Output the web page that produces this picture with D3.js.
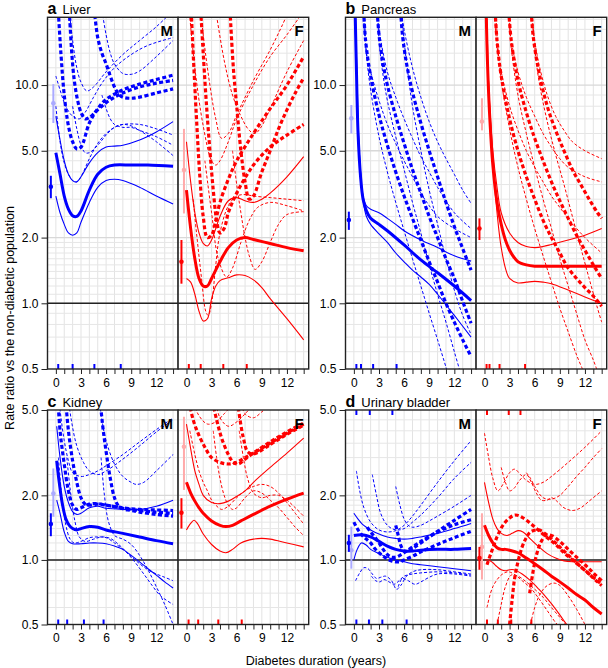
<!DOCTYPE html>
<html><head><meta charset="utf-8">
<script src="https://cdn.jsdelivr.net/npm/d3@7"></script>
<style>body{margin:0;background:#fff}text{font-family:"Liberation Sans",Arial,Helvetica,sans-serif}</style>
</head><body><svg id="c" width="608" height="668"></svg>
<script>
// ---------- axis ticks ----------
const xTickVals = d3.range(0, 15);
const xTickLabels = [0, 3, 6, 9, 12];
const yTicksTop = [0.5, 1, 2, 5, 10];
const yTicksBottom = [0.5, 1, 2, 5];
const yGridMinor = [0.6,0.7,0.8,0.9,1.1,1.2,1.3,1.4,1.5,1.6,1.7,1.8,1.9,2.5,3,3.5,4,4.5,6,7,8,9,12,14,16,18,20];
const yGridMajor = [1, 2, 5, 10];

// ---------- Liver, men ----------
const liverM_est = [[0,4.9],[0.5,3.9],[1,3.1],[1.5,2.7],[2,2.52],[2.5,2.5],[3,2.65],[4,3.3],[5,3.9],[6,4.2],[7,4.3],[9,4.3],[11,4.3],[14,4.25]];
const liverM_hi = [[0,7.2],[0.5,5.6],[1,4.5],[1.5,3.9],[2,3.65],[2.5,3.6],[3,3.8],[4,4.4],[5,4.9],[6,5.2],[7,5.25],[8,5.3],[10,5.6],[12,6.1],[14,6.8]];
const liverM_lo = [[0,3.1],[0.5,2.6],[1,2.3],[1.5,2.1],[2,2.05],[2.5,2.1],[3,2.35],[4,2.9],[5,3.4],[6,3.65],[7,3.7],[8,3.65],[10,3.4],[12,3.1],[14,2.85]];
const liverM_s1 = [[0.2,25],[0.6,14],[1,9],[1.5,6.5],[2,5.5],[2.5,5.1],[3,5.2],[4,6.7],[5,7.8],[6,8.6],[8,9.5],[10,10.1],[12,10.6],[14,11.1]];
const liverM_s2 = [[1.6,22],[1.9,14],[2.2,10.5],[2.6,8.5],[3,7.5],[3.5,7.0],[4,7.1],[5,7.7],[6,8.3],[7,8.8],[8,9.2],[10,9.8],[12,10.2],[14,10.5]];
const liverM_s3 = [[4.5,24],[5,16.5],[5.5,14],[6,12.5],[6.5,11],[7,9.8],[7.5,9.1],[8,8.8],[9,8.7],[10,8.8],[12,9.2],[14,9.6]];
const liverM_s1hi = [[0,11],[0.5,9.5],[1,8.3],[1.5,7.6],[2,7.2],[2.8,7.0],[3.5,7.5],[4.5,8.8],[5.5,10.2],[7,12],[9,13.8],[11,15.2],[14,16.5]];
const liverM_s2hi = [[1.6,22],[2,16],[2.5,12],[3,10.3],[3.7,9.4],[4.5,9.8],[6,11.5],[8,13.8],[10,16],[12,18.5],[13.5,21]];
const liverM_s3hi = [[5.5,22],[6,17],[6.5,14],[7,12.5],[8,11.3],[9,11.2],[10,11.6],[12,13.5],[14,16]];
const liverM_s1lo = [[0,8],[0.5,5.5],[1,4.4],[1.5,3.9],[2,3.65],[2.5,3.6],[3,3.8],[4,4.6],[5,5.4],[6,6.0],[7,6.4],[8,6.6],[9,6.5],[10,6.2],[12,5.5],[14,4.75]];
const liverM_s2lo = [[2,8],[2.5,6.3],[3,5.3],[3.5,4.9],[4,4.9],[5,5.3],[6,5.9],[7,6.4],[8,6.6],[10,6.6],[12,6.3],[14,5.9]];
const liverM_s3lo = [[5.5,9],[6,7.8],[6.5,7.0],[7,6.6],[8,6.4],[9,6.4],[10,6.2],[12,5.8],[14,5.3]];
const liverM_point = [3.42, 3.03, 3.84];
const liverM_pointAll = [8.25, 6.7, 10.1];
const liverM_rugBottom = [0.28, 2.0, 4.6, 7.75];
const liverM_rugTop = [];

// ---------- Liver, women ----------
const liverF_est = [[0,3.3],[0.5,2.2],[1,1.6],[1.5,1.3],[2,1.2],[2.5,1.2],[3,1.3],[4,1.55],[5,1.8],[6,1.95],[7,2.0],[8,1.96],[10,1.88],[12,1.8],[14,1.74]];
const liverF_hi = [[0,5.5],[0.5,3.6],[1,2.6],[1.5,2.1],[2,1.88],[2.5,1.83],[3,1.95],[4,2.5],[5,2.95],[6,3.05],[7,2.95],[8,2.9],[9,3.0],[10,3.2],[12,3.8],[14,4.7]];
const liverF_lo = [[0,1.3],[0.5,1.25],[1,1.1],[1.5,0.92],[2,0.83],[2.5,0.85],[3,1.05],[3.5,1.2],[4,1.27],[5,1.31],[6,1.35],[7,1.34],[8,1.28],[9,1.18],[10,1.05],[12,0.85],[14,0.68]];
const liverF_s1 = [[0.5,25],[0.8,14],[1.2,7],[1.6,3.8],[2,2.5],[2.5,2.0],[3,2.05],[3.5,2.4],[4,2.9],[5,3.7],[6,4.5],[8,6.0],[10,7.8],[12,10.0],[14,13.5]];
const liverF_s2 = [[1.7,22],[2,14],[2.4,8],[2.8,5],[3.2,3.3],[3.6,2.4],[4,2.1],[4.5,2.2],[5,2.6],[6,3.2],[8,4.3],[10,5.2],[12,5.9],[14,6.6]];
const liverF_s3 = [[5.2,22],[5.6,12],[6,8],[6.5,5],[7,3.6],[7.5,3.0],[8,3.1],[9,4.0],[10,5.0],[11,6.3],[12,7.7],[13,9.2],[14,10.8]];
const liverF_s1hi = [[0.2,25],[1,12],[2,6.5],[3,4.5],[3.5,4.3],[4,4.5],[5,5.5],[6,7],[8,10],[10,13.5],[12,17],[13.5,20.5]];
const liverF_s2hi = [[1.5,25],[2.5,12],[3.5,7],[4.2,5.7],[5,6],[6,7.3],[8,10.5],[10,14.5],[11.5,19],[12,21]];
const liverF_s3hi = [[3.5,22],[4.5,13],[5.5,9],[6.5,7.2],[7.5,6.2],[8.2,6.0],[9,6.5],[10,7.8],[12,11.5],[14,16]];
const liverF_s1lo = [[0.8,3],[1.2,2.1],[1.8,1.3],[2.3,0.92],[2.6,0.88],[3,1.0],[3.5,1.5],[4,2.1],[5,2.8],[6,3.1],[7,3.15],[8,3.1],[10,3.05],[12,3.0],[14,2.95]];
const liverF_s2lo = [[2.2,4.5],[3,2.6],[3.8,1.6],[4.8,1.32],[5.5,1.45],[6.5,1.9],[7.5,2.4],[8.5,2.75],[10,2.9],[12,2.8],[14,2.65]];
const liverF_s3lo = [[5.5,5],[6,3.5],[6.5,2.6],[7,2.0],[7.5,1.65],[8.2,1.43],[9,1.55],[10,1.9],[11,2.3],[12,2.55],[14,2.63]];
const liverF_point = [1.55, 1.23, 1.95];
const liverF_pointAll = [4.08, 2.58, 6.3];
const liverF_rugBottom = [0.28, 1.7, 4.4, 7.2];
const liverF_rugTop = [];

// ---------- Pancreas, men ----------
const pancM_est = [[0.15,22],[0.3,12],[0.5,6],[0.8,3.8],[1.1,3.0],[1.5,2.65],[2,2.45],[3,2.3],[4,2.15],[6,1.85],[8,1.58],[10,1.38],[12,1.2],[14,1.03]];
const pancM_hi = [[0.1,22],[0.3,12],[0.5,6.5],[0.8,4],[1.1,3.1],[1.5,2.8],[2,2.7],[3,2.6],[4,2.45],[5,2.3],[6,2.15],[8,1.95],[10,1.8],[12,1.65],[14,1.56]];
const pancM_lo = [[0.2,20],[0.4,10],[0.6,5.5],[0.9,3.5],[1.2,2.8],[1.5,2.5],[2,2.3],[3,2.08],[4,1.9],[5,1.7],[6,1.55],[7,1.42],[8,1.32],[9,1.22],[10,1.1],[12,0.88],[14,0.7]];
const pancM_s1 = [[1.1,25],[1.4,16],[2,11],[3,7.3],[4,5.3],[5,4.0],[6,3.1],[7,2.45],[8,1.95],[9,1.55],[10,1.25],[11,1.0],[12,0.82],[13,0.68],[14,0.57]];
const pancM_s2 = [[2.7,25],[3,17],[3.5,12.5],[4,10],[5,7.2],[6,5.4],[7,4.1],[8,3.2],[9,2.5],[10,2.0],[11,1.6],[12,1.3],[13,1.02],[14,0.81]];
const pancM_s3 = [[5.5,25],[5.8,17],[6.3,12.5],[7,9.3],[8,6.7],[9,5.0],[10,3.8],[11,2.9],[12,2.25],[13,1.78],[14,1.42]];
const pancM_s1hi = [[1.0,25],[1.5,14],[2,11.5],[3,8.5],[4,6.6],[5,5.4],[6,4.5],[7,3.8],[8,3.2],[9,2.8],[10,2.5],[12,2.2],[14,2.0]];
const pancM_s2hi = [[2.6,25],[3,18],[4,11.5],[5,8.8],[6,7.0],[7,5.7],[8,4.7],[9,4.0],[10,3.4],[12,2.6],[14,2.2]];
const pancM_s3hi = [[5.4,25],[6,18],[7,12],[8,8.8],[9,6.8],[10,5.5],[11,4.6],[12,3.9],[13,3.3],[14,2.87]];
const pancM_s1lo = [[1.2,25],[1.5,14],[2,9.5],[3,5.8],[4,4.0],[5,2.9],[6,2.15],[7,1.6],[8,1.2],[9,0.9],[10,0.68],[11,0.51],[11.2,0.48]];
const pancM_s2lo = [[2.8,25],[3,16],[3.5,11],[4,8.5],[5,5.8],[6,4.1],[7,2.9],[8,2.1],[9,1.5],[10,1.1],[11,0.82],[12,0.6],[12.6,0.5]];
const pancM_s3lo = [[5.6,25],[6,16],[6.5,11],[7,8],[8,5],[9,3.3],[10,2.3],[11,1.6],[12,1.15],[13,0.88],[14,0.72]];
const pancM_point = [2.41, 2.17, 2.63];
const pancM_pointAll = [7.04, 6.0, 8.1];
const pancM_rugBottom = [0.3, 0.85, 2.3, 5.1];
const pancM_rugTop = [];

// ---------- Pancreas, women ----------
const pancF_est = [[0.2,22],[0.35,13],[0.6,7.5],[1,4.3],[1.5,2.9],[2,2.3],[2.5,1.95],[3,1.75],[3.5,1.63],[4,1.55],[5,1.5],[6,1.48],[8,1.48],[10,1.48],[12,1.48],[14,1.48]];
const pancF_hi = [[0.1,25],[0.3,15],[0.6,8.5],[1,5],[1.5,3.4],[2,2.6],[3,2.1],[4,1.9],[5,1.82],[6,1.8],[7,1.82],[8,1.86],[10,1.95],[12,2.05],[14,2.2]];
const pancF_lo = [[0.3,20],[0.5,10],[0.8,6],[1.2,3.5],[1.7,2.2],[2,1.8],[2.5,1.45],[3,1.3],[4,1.24],[5,1.25],[6,1.26],[7,1.25],[8,1.23],[10,1.15],[12,1.07],[14,1.0]];
const pancF_s1 = [[1.2,25],[1.5,16],[2,11],[3,7],[4,5],[5,3.8],[6,3.0],[7,2.4],[8,2.0],[9,1.7],[10,1.45],[11,1.3],[12,1.18],[13,1.08],[14,0.97]];
const pancF_s2 = [[2.8,25],[3.2,16],[4,10.5],[5,7.5],[6,5.7],[7,4.5],[8,3.6],[9,2.95],[10,2.45],[11,2.05],[12,1.75],[13,1.5],[14,1.3]];
const pancF_s3 = [[5.5,25],[5.8,17],[6.5,11.5],[7.5,8],[8.5,6.2],[9.5,5.0],[10.5,4.1],[11.5,3.5],[12.5,3.0],[13.5,2.6],[14,2.45]];
const pancF_s1hi = [[1.1,25],[1.5,15],[2,11.5],[3,8],[4,6.2],[5,5],[6,4.2],[7,3.6],[8,3.1],[9,2.75],[10,2.45],[12,2.0],[14,1.7]];
const pancF_s2hi = [[2.7,25],[3.2,16],[4,11.5],[5,8.8],[6,7.2],[7,6.0],[8,5.2],[9,4.6],[10,4.2],[12,3.8],[14,3.6]];
const pancF_s3hi = [[5.4,25],[5.8,18],[6.5,12.5],[7.5,9],[8.5,7.2],[9.5,6.2],[10.5,5.5],[12,5.0],[14,4.6]];
const pancF_s1lo = [[1.3,25],[1.6,15],[2,10.5],[3,6.3],[4,4.2],[5,3.0],[6,2.2],[7,1.65],[8,1.25],[9,0.95],[10,0.74],[11,0.58],[11.7,0.5]];
const pancF_s2lo = [[2.9,25],[3.2,15],[4,9],[5,6],[6,4.2],[7,3.0],[8,2.2],[9,1.6],[10,1.2],[11,0.9],[12,0.68],[13,0.55],[13.4,0.5]];
const pancF_s3lo = [[5.6,25],[6,15],[6.5,10.5],[7.5,6.8],[8.5,4.8],[9.5,3.5],[10.5,2.5],[11.5,1.8],[12.5,1.3],[13.5,0.95],[14,0.82]];
const pancF_point = [2.2, 1.95, 2.45];
const pancF_pointAll = [6.8, 6.2, 8.7];
const pancF_rugBottom = [0.25, 0.6, 1.8, 4.85];
const pancF_rugTop = [];

// ---------- Kidney, men ----------
const kidM_est = [[0.1,2.9],[0.4,2.3],[0.8,1.8],[1.2,1.55],[1.6,1.45],[2,1.4],[2.5,1.38],[3,1.4],[4,1.43],[5,1.42],[6,1.38],[8,1.33],[10,1.28],[12,1.23],[14,1.19]];
const kidM_hi = [[0.1,4.2],[0.5,3.0],[1,2.2],[1.5,1.85],[2,1.68],[2.5,1.63],[3,1.65],[4,1.75],[5,1.78],[6,1.74],[8,1.72],[10,1.72],[12,1.78],[14,1.9]];
const kidM_lo = [[0.1,1.9],[0.5,1.65],[1,1.35],[1.5,1.22],[2,1.19],[3,1.19],[4,1.2],[5,1.2],[6,1.19],[7,1.16],[8,1.12],[9,1.05],[10,0.98],[11,0.91],[12,0.85],[13,0.79],[14,0.74]];
const kidM_s1 = [[0.2,6],[0.5,4],[1,2.8],[1.5,2.1],[2,1.8],[2.5,1.72],[3,1.75],[4,1.82],[5,1.83],[6,1.8],[8,1.75],[10,1.72],[12,1.71],[14,1.7]];
const kidM_s2 = [[1.1,6],[1.5,4],[2,2.9],[2.5,2.3],[3,1.95],[3.5,1.82],[4,1.8],[5,1.82],[6,1.8],[8,1.74],[10,1.7],[12,1.67],[14,1.65]];
const kidM_s3 = [[5.2,6],[5.6,4.2],[6,3.2],[6.5,2.4],[7,1.95],[7.5,1.78],[8,1.73],[9,1.7],[10,1.67],[12,1.63],[14,1.6]];
const kidM_s1hi = [[0.1,7],[0.5,5],[1,3.6],[1.5,2.9],[2,2.55],[3,2.45],[4,2.5],[5,2.6],[6,2.75],[8,3.1],[10,3.55],[12,4.05],[14,4.6]];
const kidM_s2hi = [[1.2,7],[1.8,4.6],[2.5,3.4],[3.3,2.85],[4,2.6],[5,2.5],[6,2.6],[8,2.95],[10,3.4],[12,3.95],[14,4.5]];
const kidM_s3hi = [[4.9,7],[5.5,4.5],[6,3.6],[7,2.8],[8,2.45],[9,2.3],[9.6,2.25],[10.5,2.3],[12,2.6],[14,3.1]];
const kidM_s1lo = [[0.3,3],[0.7,2],[1.2,1.45],[1.7,1.25],[2.2,1.2],[3,1.22],[4,1.27],[5,1.28],[6,1.27],[7,1.2],[8,1.12],[9,1.04],[10,0.96],[11,0.9],[12,0.86],[13,0.83],[14,0.8]];
const kidM_s2lo = [[1.3,3],[1.8,2],[2.3,1.5],[2.8,1.28],[3.5,1.22],[4.5,1.25],[5.5,1.28],[6.5,1.26],[7.5,1.18],[8.5,1.08],[9.5,0.97],[10.5,0.86],[11.5,0.76],[12.5,0.68],[14,0.62]];
const kidM_s3lo = [[5.4,3],[5.8,2],[6.3,1.5],[7,1.3],[7.5,1.27],[8,1.25],[9,1.18],[10,1.05],[11,0.9],[12,0.75],[13,0.62],[14,0.5]];
const kidM_point = [1.47, 1.29, 1.65];
const kidM_pointAll = [2.04, 1.59, 2.67];
const kidM_rugBottom = [0.28, 1.35, 3.35, 5.7];
const kidM_rugTop = [];

// ---------- Kidney, women ----------
const kidF_est = [[0,2.3],[0.5,2.05],[1,1.88],[1.5,1.75],[2,1.65],[3,1.52],[4,1.45],[4.7,1.43],[5.5,1.45],[6.5,1.52],[8,1.63],[10,1.78],[12,1.92],[14,2.05]];
const kidF_hi = [[0,4.3],[0.5,3.3],[1,2.6],[1.5,2.25],[2,2.0],[3,1.85],[4,1.83],[5,1.88],[6,1.98],[7,2.1],[8,2.3],[10,2.7],[12,3.15],[14,3.7]];
const kidF_lo = [[0,1.38],[0.5,1.48],[0.9,1.53],[1.3,1.48],[2,1.32],[3,1.18],[4,1.1],[4.7,1.08],[5.5,1.12],[6.5,1.2],[8,1.25],[9,1.26],[10,1.25],[12,1.2],[14,1.15]];
const kidF_s1 = [[0.3,5.5],[0.8,4.5],[1.5,3.8],[2.3,3.3],[3,3.0],[4,2.85],[5,2.8],[6,2.85],[7,3.0],[8,3.15],[10,3.5],[12,3.9],[14,4.3]];
const kidF_s2 = [[3.1,5.5],[3.6,4.5],[4.2,3.7],[5,3.1],[5.6,2.85],[6.2,2.8],[7,2.95],[8,3.15],[10,3.55],[12,3.95],[14,4.35]];
const kidF_s3 = [[6.1,5.5],[6.4,4.5],[6.8,3.7],[7.3,3.2],[8,3.12],[10,3.45],[12,3.85],[14,4.25]];
const kidF_s1hi = [[0.2,7],[0.8,5.5],[1.5,4.7],[2.5,4.3],[3.5,4.4],[4.5,4.8],[5.5,5.3]];
const kidF_s2hi = [[3,7],[3.5,5.5],[4,4.6],[5,4.2],[6,4.4],[7,4.8],[8,5.3]];
const kidF_s3hi = [[6,7],[6.5,5.5],[7,4.8],[8,4.6],[9,4.9],[10,5.3]];
const kidF_s1lo = [[0.4,4],[1,3.1],[1.5,2.6],[2,2.3],[2.5,2.1],[3,1.9],[3.5,1.8],[4.2,1.72],[5,1.78],[6,1.95],[7,2.1],[8,2.2],[9,2.25],[10,2.2],[11,2.05],[12,1.85],[13,1.65],[14,1.47]];
const kidF_s2lo = [[3.2,4],[3.6,3],[4,2.4],[4.5,2.0],[5,1.8],[5.5,1.72],[6,1.75],[7,1.95],[8,2.1],[9,2.05],[10,1.9],[11,1.75],[12,1.58],[13,1.42],[14,1.3]];
const kidF_s3lo = [[6.3,4],[6.8,3],[7.3,2.4],[8,2.05],[9,1.95],[10,2.0],[11,2.0],[12,1.9],[13,1.75],[14,1.6]];
const kidF_point = [1.66, 1.40, 1.94];
const kidF_pointAll = [3.37, 2.12, 4.65];
const kidF_rugBottom = [0.25, 1.4, 3.8, 6.6];
const kidF_rugTop = [];

// ---------- Urinary bladder, men ----------
const bladM_est = [[0,1.3],[1,1.31],[2,1.28],[3,1.22],[4,1.16],[5,1.12],[6,1.1],[7,1.1],[8,1.11],[10,1.12],[12,1.12],[14,1.13]];
const bladM_hi = [[0,1.65],[0.5,1.55],[1,1.47],[1.5,1.42],[2,1.38],[3,1.32],[4,1.28],[5,1.26],[6,1.25],[7,1.26],[8,1.28],[10,1.33],[12,1.4],[14,1.48]];
const bladM_lo = [[0,1.0],[0.4,1.12],[0.9,1.2],[1.5,1.17],[2,1.12],[3,1.07],[4,1.03],[5,1.0],[6,0.98],[7,0.96],[8,0.95],[10,0.93],[12,0.91],[14,0.89]];
const bladM_s1 = [[0,1.5],[0.5,1.38],[1,1.3],[1.5,1.25],[2,1.2],[2.5,1.13],[3,1.08],[3.5,1.04],[4,1.01],[4.5,0.99],[5,0.98],[5.5,0.98],[6,1.0],[7,1.04],[8,1.09],[10,1.18],[12,1.27],[14,1.36]];
const bladM_s2 = [[1.6,1.42],[2,1.35],[2.5,1.28],[3,1.2],[3.5,1.12],[4,1.06],[4.5,1.03],[5,1.03],[5.5,1.05],[6,1.08],[7,1.15],[8,1.22],[10,1.35],[12,1.46],[14,1.54]];
const bladM_s3 = [[5,1.45],[5.3,1.3],[5.6,1.17],[6,1.1],[6.5,1.1],[7,1.13],[8,1.2],[10,1.36],[12,1.53],[14,1.72]];
const bladM_s1hi = [[0.3,2.6],[0.7,2.1],[1.2,1.75],[2,1.5],[3,1.38],[4,1.35],[5,1.37],[6,1.45],[7,1.6],[8,1.8],[10,2.3],[12,2.9],[14,3.6]];
const bladM_s2hi = [[2.2,2.5],[2.7,2.0],[3.2,1.65],[4,1.45],[5,1.38],[6,1.4],[7,1.5],[8,1.62],[10,1.95],[12,2.4],[14,2.85]];
const bladM_s3hi = [[5,2.2],[5.5,1.8],[6,1.55],[6.5,1.45],[7,1.42],[8,1.45],[9,1.52],[10,1.6],[12,1.78],[14,2.0]];
const bladM_s1lo = [[0.2,0.8],[0.7,0.87],[1.2,0.92],[1.7,0.91],[2.2,0.86],[2.7,0.82],[3.2,0.83],[3.8,0.84],[4.5,0.8],[5.1,0.73],[5.6,0.76],[6.3,0.84],[7,0.88],[8,0.9],[10,0.9],[12,0.88],[14,0.86]];
const bladM_s2lo = [[2.1,0.84],[2.6,0.8],[3.1,0.79],[3.6,0.81],[4.2,0.79],[4.8,0.77],[5.4,0.8],[6,0.84],[7,0.86],[8,0.87],[10,0.88],[12,0.87],[14,0.85]];
const bladM_s3lo = [[5.3,0.75],[5.8,0.82],[6.5,0.8],[7.3,0.77],[8,0.79],[9,0.83],[10,0.86],[12,0.86],[14,0.84]];
const bladM_point = [1.2, 1.09, 1.31];
const bladM_pointAll = [1.11, 0.91, 1.43];
const bladM_rugBottom = [0.3, 1.8, 3.4, 6.3];
const bladM_rugTop = [0.3, 1.9, 4.6];

// ---------- Urinary bladder, women ----------
const bladF_est = [[0,1.45],[0.5,1.3],[1,1.2],[1.5,1.14],[2,1.12],[2.5,1.12],[3,1.11],[4,1.08],[5,1.02],[6,0.96],[7,0.9],[8,0.84],[9,0.79],[10,0.74],[11,0.69],[12,0.65],[13,0.6],[14,0.56]];
const bladF_hi = [[0,2.3],[0.5,1.85],[1,1.55],[1.5,1.4],[2,1.33],[2.7,1.3],[3.3,1.33],[4,1.37],[4.6,1.35],[5.5,1.25],[6.5,1.15],[7.5,1.07],[8.5,1.02],[9.5,0.99],[10.5,0.98],[12,0.98],[14,0.98]];
const bladF_lo = [[0,1.0],[0.5,1.0],[1,0.97],[1.5,0.93],[2,0.9],[2.5,0.89],[3,0.9],[3.5,0.9],[4.5,0.86],[5.5,0.8],[6.5,0.73],[7.5,0.66],[8.5,0.59],[9.5,0.52],[10,0.49]];
const bladF_s1 = [[0.3,0.95],[0.8,1.08],[1.5,1.28],[2.2,1.45],[3,1.57],[3.7,1.62],[4.5,1.58],[5.5,1.48],[6.5,1.37],[7.5,1.27],[8.5,1.18],[9.5,1.08],[10.5,1.0],[11.5,0.93],[12.5,0.86],[13.5,0.79],[14,0.76]];
const bladF_s2 = [[3,0.5],[3.3,0.65],[3.6,0.82],[4,0.98],[4.5,1.15],[5,1.27],[5.5,1.35],[6.5,1.38],[7.5,1.3],[8.5,1.2],[9.5,1.1],[10.5,1.01],[11.5,0.93],[12.5,0.86],[13.5,0.8],[14,0.77]];
const bladF_s3 = [[5.4,0.7],[5.8,0.88],[6.2,1.05],[6.7,1.2],[7.3,1.3],[8,1.3],[9,1.22],[10,1.12],[11,1.03],[12,0.95],[13,0.87],[14,0.8]];
const bladF_s1hi = [[0,3.9],[0.5,3.0],[1,2.4],[1.6,2.1],[2.2,2.25],[3,2.55],[3.6,2.65],[4.3,2.5],[5,2.35],[6,2.25],[7,2.3],[8,2.45],[10,2.85],[12,3.35],[14,4.0]];
const bladF_s2hi = [[2,2.7],[2.5,2.3],[3,2.1],[3.5,2.15],[4.2,2.35],[5,2.5],[5.6,2.3],[6.2,2.05],[6.8,1.9],[7.5,1.9],[8,1.95],[8.5,1.9],[9.5,1.75],[10.5,1.7],[11.5,1.75],[12.5,1.88],[14,2.1]];
const bladF_s3hi = [[5,2.55],[5.5,2.4],[6,2.2],[7,1.95],[8,1.92],[9,2.0],[10,2.2],[11,2.45],[12,2.7],[13,3.0],[14,3.3]];
const bladF_s1lo = [[0.3,0.6],[1,0.75],[2,0.85],[2.8,0.88],[3.5,0.86],[4.5,0.8],[5.5,0.74],[6.5,0.66],[7.5,0.58],[8.5,0.51],[8.7,0.5]];
const bladF_s2lo = [[1.5,0.5],[2,0.62],[2.5,0.75],[3.2,0.85],[4,0.84],[5,0.79],[6,0.73],[7,0.67],[8,0.6],[9,0.54],[9.7,0.5]];
const bladF_s3lo = [[5.5,0.5],[6,0.6],[6.7,0.7],[7.5,0.76],[8.3,0.78],[9,0.76],[10,0.68],[11,0.59],[12,0.5]];
const bladF_point = [1.02, 0.9, 1.15];
const bladF_pointAll = [1.15, 0.81, 1.65];
const bladF_rugBottom = [0.3, 1.6, 3.2, 5.6];
const bladF_rugTop = [0.3, 2.9, 4.3];

// ---------- layout tables built from the arrays ----------
const facet = (est, lo, hi, s1, s2, s3, s1lo, s2lo, s3lo, s1hi, s2hi, s3hi, pt, ptAll, rugB, rugT) =>
  ({est, lo, hi, subs:[s1,s2,s3], subCI:[s1lo,s2lo,s3lo,s1hi,s2hi,s3hi], pt, ptAll, rugB, rugT});

const panels = [
  {letter:'a', name:'Liver', left:47.5, top:17.3, bottom:369, ymax:20.44, yt:yTicksTop,
   M: facet(liverM_est, liverM_lo, liverM_hi, liverM_s1, liverM_s2, liverM_s3, liverM_s1lo, liverM_s2lo, liverM_s3lo, liverM_s1hi, liverM_s2hi, liverM_s3hi, liverM_point, liverM_pointAll, liverM_rugBottom, liverM_rugTop),
   F: facet(liverF_est, liverF_lo, liverF_hi, liverF_s1, liverF_s2, liverF_s3, liverF_s1lo, liverF_s2lo, liverF_s3lo, liverF_s1hi, liverF_s2hi, liverF_s3hi, liverF_point, liverF_pointAll, liverF_rugBottom, liverF_rugTop)},
  {letter:'b', name:'Pancreas', left:345.5, top:17.3, bottom:369, ymax:20.44, yt:yTicksTop,
   M: facet(pancM_est, pancM_lo, pancM_hi, pancM_s1, pancM_s2, pancM_s3, pancM_s1lo, pancM_s2lo, pancM_s3lo, pancM_s1hi, pancM_s2hi, pancM_s3hi, pancM_point, pancM_pointAll, pancM_rugBottom, pancM_rugTop),
   F: facet(pancF_est, pancF_lo, pancF_hi, pancF_s1, pancF_s2, pancF_s3, pancF_s1lo, pancF_s2lo, pancF_s3lo, pancF_s1hi, pancF_s2hi, pancF_s3hi, pancF_point, pancF_pointAll, pancF_rugBottom, pancF_rugTop)},
  {letter:'c', name:'Kidney', left:47.5, top:410, bottom:624.5, ymax:5, yt:yTicksBottom,
   M: facet(kidM_est, kidM_lo, kidM_hi, kidM_s1, kidM_s2, kidM_s3, kidM_s1lo, kidM_s2lo, kidM_s3lo, kidM_s1hi, kidM_s2hi, kidM_s3hi, kidM_point, kidM_pointAll, kidM_rugBottom, kidM_rugTop),
   F: facet(kidF_est, kidF_lo, kidF_hi, kidF_s1, kidF_s2, kidF_s3, kidF_s1lo, kidF_s2lo, kidF_s3lo, kidF_s1hi, kidF_s2hi, kidF_s3hi, kidF_point, kidF_pointAll, kidF_rugBottom, kidF_rugTop)},
  {letter:'d', name:'Urinary bladder', left:345.5, top:410, bottom:624.5, ymax:5, yt:yTicksBottom,
   M: facet(bladM_est, bladM_lo, bladM_hi, bladM_s1, bladM_s2, bladM_s3, bladM_s1lo, bladM_s2lo, bladM_s3lo, bladM_s1hi, bladM_s2hi, bladM_s3hi, bladM_point, bladM_pointAll, bladM_rugBottom, bladM_rugTop),
   F: facet(bladF_est, bladF_lo, bladF_hi, bladF_s1, bladF_s2, bladF_s3, bladF_s1lo, bladF_s2lo, bladF_s3lo, bladF_s1hi, bladF_s2hi, bladF_s3hi, bladF_point, bladF_pointAll, bladF_rugBottom, bladF_rugTop)}
];

const FW = 130.6;
const colors = {M:{dark:'#0000ff', light:'#aaaaff'}, F:{dark:'#ff0000', light:'#ffaaaa'}};
const svg = d3.select('#c');
const defs = svg.append('defs');
let clipId = 0;

panels.forEach(p => {
  const g = svg.append('g');
  const y = d3.scaleLog().domain([0.5, p.ymax]).range([p.bottom, p.top]);
  ['M','F'].forEach((sex, i) => {
    const f = p[sex];
    const x0 = p.left + i*FW;
    const x = d3.scaleLinear().domain([-1, 14.6]).range([x0, x0 + FW]);
    const col = colors[sex];
    const id = 'clip' + (clipId++);
    defs.append('clipPath').attr('id', id).append('rect')
      .attr('x', x0).attr('y', p.top).attr('width', FW).attr('height', p.bottom - p.top);
    const fg = g.append('g');
    fg.append('rect').attr('x', x0).attr('y', p.top).attr('width', FW).attr('height', p.bottom - p.top).attr('fill', '#fff');
    // grid
    const grid = fg.append('g').attr('clip-path', `url(#${id})`);
    grid.selectAll('line.gx').data(d3.range(-1, 15)).join('line')
      .attr('x1', d => x(d)).attr('x2', d => x(d)).attr('y1', p.top).attr('y2', p.bottom)
      .attr('stroke', '#e3e3e3').attr('stroke-width', 1);
    grid.selectAll('line.gy').data(yGridMinor.filter(v => v < p.ymax)).join('line')
      .attr('x1', x0).attr('x2', x0 + FW).attr('y1', d => y(d)).attr('y2', d => y(d))
      .attr('stroke', '#e6e6e6').attr('stroke-width', 1);
    grid.selectAll('line.gm').data(yGridMajor.filter(v => v < p.ymax)).join('line')
      .attr('x1', x0).attr('x2', x0 + FW).attr('y1', d => y(d)).attr('y2', d => y(d))
      .attr('stroke', '#d8d8d8').attr('stroke-width', 1.3);
    // reference line at 1
    fg.append('line').attr('x1', x0).attr('x2', x0 + FW).attr('y1', y(1)).attr('y2', y(1))
      .attr('stroke', '#222').attr('stroke-width', 1.5);

    const line = d3.line().x(d => x(d[0])).y(d => y(d[1])).curve(d3.curveCatmullRom.alpha(0.5));
    const lg = fg.append('g').attr('clip-path', `url(#${id})`).attr('fill', 'none').attr('stroke', col.dark);
    f.subCI.forEach(s => lg.append('path').attr('d', line(s)).attr('stroke-width', 1).attr('stroke-dasharray', '3,2'));
    f.subs.forEach(s => lg.append('path').attr('d', line(s)).attr('stroke-width', 3.2).attr('stroke-dasharray', '4,2.5'));
    [f.lo, f.hi].forEach(s => lg.append('path').attr('d', line(s)).attr('stroke-width', 1.1));
    lg.append('path').attr('d', line(f.est)).attr('stroke-width', 3);

    // point estimates at baseline
    const pa = f.ptAll, pd = f.pt;
    fg.append('line').attr('x1', x(-0.3)).attr('x2', x(-0.3)).attr('y1', y(pa[1])).attr('y2', y(pa[2]))
      .attr('stroke', col.light).attr('stroke-width', 2);
    fg.append('circle').attr('cx', x(-0.3)).attr('cy', y(pa[0])).attr('r', 2.3).attr('fill', col.light);
    fg.append('line').attr('x1', x(-0.6)).attr('x2', x(-0.6)).attr('y1', y(pd[1])).attr('y2', y(pd[2]))
      .attr('stroke', col.dark).attr('stroke-width', 2);
    fg.append('circle').attr('cx', x(-0.6)).attr('cy', y(pd[0])).attr('r', 2.3).attr('fill', col.dark);

    // rugs
    fg.selectAll('line.rb').data(f.rugB).join('line')
      .attr('x1', d => x(d)).attr('x2', d => x(d)).attr('y1', p.bottom - 5).attr('y2', p.bottom)
      .attr('stroke', col.dark).attr('stroke-width', 2);
    fg.selectAll('line.rt').data(f.rugT).join('line')
      .attr('x1', d => x(d)).attr('x2', d => x(d)).attr('y1', p.top).attr('y2', p.top + 5)
      .attr('stroke', col.dark).attr('stroke-width', 2);

    // frame
    fg.append('rect').attr('x', x0).attr('y', p.top).attr('width', FW).attr('height', p.bottom - p.top)
      .attr('fill', 'none').attr('stroke', '#222').attr('stroke-width', 1.4);

    // sex label
    fg.append('text').attr('x', x0 + FW - 5).attr('y', p.top + 19).attr('text-anchor', 'end')
      .attr('font-weight', 'bold').attr('font-size', 15).text(sex);

    // x axis
    const ax = fg.append('g').attr('transform', `translate(0,${p.bottom})`)
      .call(d3.axisBottom(x).tickValues(xTickVals).tickSize(5).tickPadding(4)
        .tickFormat(d => xTickLabels.includes(d) ? d : ''));
    ax.select('.domain').remove();
    ax.selectAll('text').attr('font-size', 12).attr('font-family', '"Liberation Sans",Arial,sans-serif');
    ax.selectAll('line').attr('stroke', '#222').attr('stroke-width', 1);
  });
  // y axis
  const ay = g.append('g').attr('transform', `translate(${p.left},0)`)
    .call(d3.axisLeft(y).tickValues(p.yt).tickSize(6).tickPadding(3).tickFormat(d3.format('.1f')));
  ay.select('.domain').remove();
  ay.selectAll('text').attr('font-size', 12).attr('font-family', '"Liberation Sans",Arial,sans-serif');
  ay.selectAll('line').attr('stroke', '#222');
  // title
  const t = g.append('text').attr('x', p.left).attr('y', p.top - 3);
  t.append('tspan').attr('font-weight', 'bold').attr('font-size', 16).text(p.letter);
  t.append('tspan').attr('dx', 6).attr('font-size', 13).text(p.name);
});

svg.append('text').attr('x', 316).attr('y', 665).attr('text-anchor', 'middle').attr('font-size', 12.5)
  .text('Diabetes duration (years)');
svg.append('text').attr('transform', 'translate(14,318) rotate(-90)').attr('text-anchor', 'middle').attr('font-size', 12.5)
  .text('Rate ratio vs the non-diabetic population');
</script></body></html>
